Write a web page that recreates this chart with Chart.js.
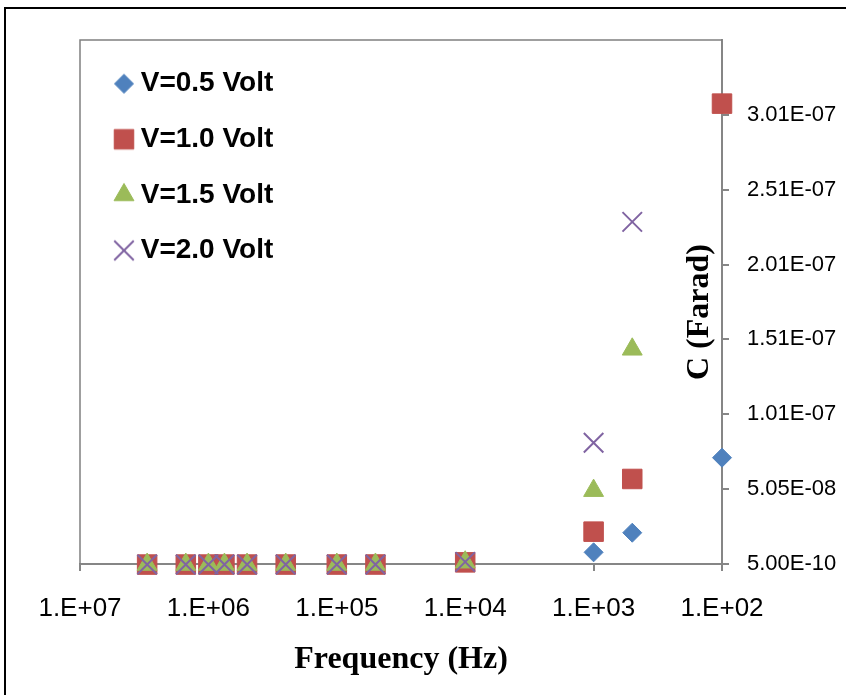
<!DOCTYPE html>
<html>
<head>
<meta charset="utf-8">
<script src="https://cdn.jsdelivr.net/npm/chart.js@4/dist/chart.umd.min.js"></script>
<style>
  html, body { margin: 0; padding: 0; background: #fff; overflow: hidden; }
  #wrap { position: relative; width: 846px; height: 695px; overflow: hidden; }
  #wrap canvas { position: absolute; left: 0; top: 0; }
  #frame { position: absolute; left: 4px; top: 7px; width: 1000px; height: 1000px;
           border: 2px solid #000; pointer-events: none; }
</style>
</head>
<body>
<div id="wrap">
  <canvas id="chart" width="846" height="695"></canvas>
  <div id="frame"></div>
</div>
<script>
// Measurement frequencies (Hz)
const frequencyHz = [3e6, 1.5e6, 1e6, 7.5e5, 5e5, 2.5e5, 1e5, 5e4, 1e4, 1e3, 500, 100];

// Capacitance (F) for each bias voltage
const capV05 = [1.0e-10, 1.0e-10, 1.0e-10, 1.0e-10, 1.0e-10, 1.0e-10, 1.2e-10, 1.3e-10, 1.5e-9, 8.3e-9, 2.14e-8, 7.15e-8];
const capV10 = [1.2e-10, 1.2e-10, 1.2e-10, 1.2e-10, 1.2e-10, 1.3e-10, 1.4e-10, 1.6e-10, 1.6e-9, 2.21e-8, 5.73e-8, 3.08e-7];
const capV15 = [1.3e-10, 1.3e-10, 1.3e-10, 1.3e-10, 1.3e-10, 1.4e-10, 1.5e-10, 1.8e-10, 1.7e-9, 4.95e-8, 1.439e-7, null];
const capV20 = [1.4e-10, 1.4e-10, 1.4e-10, 1.4e-10, 1.4e-10, 1.5e-10, 1.6e-10, 2.0e-10, 1.9e-9, 8.15e-8, 2.29e-7, null];

const seriesLabels = ['V=0.5 Volt', 'V=1.0 Volt', 'V=1.5 Volt', 'V=2.0 Volt'];

// Axis ticks
const xTickValues = [1e7, 1e6, 1e5, 1e4, 1e3, 1e2];
const xTickLabels = ['1.E+07', '1.E+06', '1.E+05', '1.E+04', '1.E+03', '1.E+02'];
const yTickValues = [5e-10, 5.05e-8, 1.005e-7, 1.505e-7, 2.005e-7, 2.505e-7, 3.005e-7];
const yTickLabels = ['5.00E-10', '5.05E-08', '1.01E-07', '1.51E-07', '2.01E-07', '2.51E-07', '3.01E-07'];

// Marker appearance per series
const markerStyles = [
  { style: 'rectRot',  radius: 9.5,  color: '#4F81BD', border: 1 },
  { style: 'rect',     radius: 13.8, color: '#C0504D', border: 1 },
  { style: 'triangle', radius: 11.5, color: '#9BBB59', border: 1 },
  { style: 'crossRot', radius: 13.8, color: '#8064A2', border: 2 }
];

function toPoints(values) {
  return frequencyHz
    .map((f, i) => ({ x: f, y: values[i] }))
    .filter(p => p.y !== null);
}

// Small bitmaps so every legend marker keeps its own size
function legendMarker(m) {
  if (!(Chart.helpers && Chart.helpers.drawPoint)) return m.style;
  const c = document.createElement('canvas');
  c.width = 34; c.height = 34;
  const g = c.getContext('2d');
  g.fillStyle = m.color;
  g.strokeStyle = m.color;
  g.lineWidth = m.border;
  Chart.helpers.drawPoint(g, { pointStyle: m.style, radius: m.radius, rotation: 0, borderWidth: m.border }, 17, 17);
  return c;
}

const seriesValues = [capV05, capV10, capV15, capV20];
const datasets = seriesValues.map((vals, i) => {
  const m = markerStyles[i];
  return {
    label: seriesLabels[i],
    data: toPoints(vals),
    pointStyle: m.style,
    pointRadius: m.radius,
    pointHoverRadius: m.radius,
    backgroundColor: m.color,
    borderColor: m.color,
    pointBorderWidth: m.border,
    showLine: false,
    clip: false,
    order: 4 - i
  };
});
const legendImages = markerStyles.map(legendMarker);

const AXIS_GREY = '#868686';

const plotDecor = {
  id: 'plotDecor',
  afterLayout(chart) {
    const a = chart.chartArea;
    const lg = chart.legend;
    if (lg) {
      lg.left = a.left + 13.7;
      lg.top = a.top + 2.1;
      lg.right = a.right;
      lg.bottom = a.bottom;
      lg.width = lg.right - lg.left;
      lg.height = lg.bottom - lg.top;
    }
  },
  beforeDatasetsDraw(chart) {
    const { ctx, chartArea: a } = chart;
    ctx.save();
    // top and left edges of the plot frame
    ctx.strokeStyle = '#808080';
    ctx.lineWidth = 1.5;
    ctx.beginPath();
    ctx.moveTo(a.left, a.bottom);
    ctx.lineTo(a.left, a.top);
    ctx.lineTo(a.right, a.top);
    ctx.stroke();
    // vertical axis title, reading upward beside the right-hand axis
    ctx.translate(a.right - 22, 312);
    ctx.rotate(-Math.PI / 2);
    ctx.fillStyle = '#000';
    ctx.font = 'bold 32px "Liberation Serif", "Times New Roman", serif';
    ctx.textAlign = 'center';
    ctx.textBaseline = 'middle';
    ctx.fillText('C (Farad)', 0, 0);
    ctx.restore();
  }
};

new Chart(document.getElementById('chart'), {
  type: 'scatter',
  data: { datasets },
  plugins: [plotDecor],
  options: {
    responsive: false,
    devicePixelRatio: 1,
    animation: false,
    events: [],
    layout: { padding: { left: 80, top: 40, right: 0, bottom: 0 } },
    scales: {
      x: {
        type: 'logarithmic',
        position: 'bottom',
        reverse: true,
        min: 100,
        max: 1e7,
        afterBuildTicks: s => { s.ticks = xTickValues.map(v => ({ value: v })); },
        afterFit: s => { s.height = 131; },
        ticks: {
          autoSkip: false,
          maxRotation: 0,
          padding: 22,
          color: '#000',
          font: { family: '"Liberation Sans", Arial, sans-serif', size: 26 },
          callback: v => xTickLabels[xTickValues.indexOf(v)]
        },
        grid: { drawOnChartArea: false, drawTicks: true, tickLength: 7, color: AXIS_GREY, lineWidth: 2 },
        border: { display: true, color: AXIS_GREY, width: 2 },
        title: {
          display: true,
          text: 'Frequency (Hz)',
          color: '#000',
          font: { family: '"Liberation Serif", "Times New Roman", serif', size: 32, weight: 'bold' },
          padding: { top: 0, bottom: 16 }
        }
      },
      y: {
        type: 'linear',
        position: 'right',
        min: 5e-10,
        max: 3.505e-7,
        afterBuildTicks: s => { s.ticks = yTickValues.map(v => ({ value: v })); },
        afterFit: s => { s.width = 124; },
        ticks: {
          padding: 18,
          color: '#000',
          font: { family: '"Liberation Sans", Arial, sans-serif', size: 22 },
          callback: v => yTickLabels[yTickValues.indexOf(v)]
        },
        grid: { drawOnChartArea: false, drawTicks: true, tickLength: 7, color: AXIS_GREY, lineWidth: 2 },
        border: { display: true, color: AXIS_GREY, width: 2 }
      }
    },
    plugins: {
      tooltip: { enabled: false },
      legend: {
        position: 'chartArea',
        align: 'start',
        labels: {
          usePointStyle: true,
          pointStyleWidth: 5.4,
          padding: 27.6,
          color: '#000',
          font: { family: '"Liberation Sans", Arial, sans-serif', size: 28, weight: 'bold' },
          generateLabels: chart => chart.data.datasets.map((ds, i) => ({
            text: ds.label,
            datasetIndex: i,
            fillStyle: ds.backgroundColor,
            strokeStyle: ds.borderColor,
            lineWidth: 0,
            pointStyle: legendImages[i],
            fontColor: '#000',
            hidden: false
          }))
        }
      }
    }
  }
});
</script>
</body>
</html>
